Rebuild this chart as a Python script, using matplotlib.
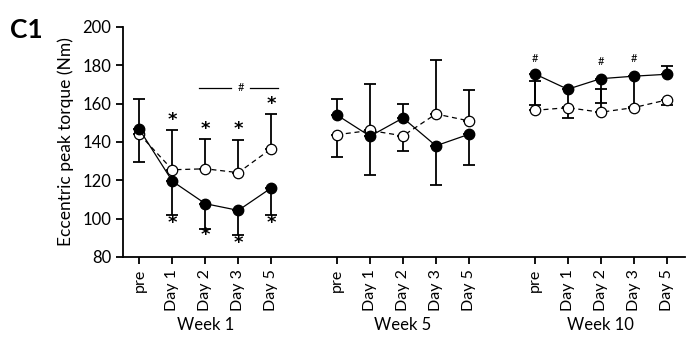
import matplotlib.pyplot as plt
import numpy as np

plt.rcParams['font.family'] = ['Lato', 'DejaVu Sans']

days = ["pre", "Day 1", "Day 2", "Day 3", "Day 5"]
weeks = ["Week 1", "Week 5", "Week 10"]

# filled circles, solid line
filledMean = [[146.5, 119.5, 107.8, 104.3, 116.0],
              [154.0, 143.0, 152.5, 138.0, 144.0],
              [175.5, 167.5, 173.0, 174.3, 175.3]]
filledErrLow = [[0, 17.5, 13.2, 12.8, 14.0],
                [0, 20.0, 0, 20.4, 15.8],
                [16.3, 9.5, 12.8, 16.3, 0]]
filledErrUp = [[16.0, 0, 0, 0, 0],
               [8.3, 0, 7.5, 0, 0],
               [0, 0, 0, 0, 4.5]]

# open circles, dashed line
openMean = [[144.0, 125.5, 126.0, 124.0, 136.5],
            [143.8, 146.0, 143.2, 154.6, 151.0],
            [156.5, 157.9, 155.5, 157.9, 161.9]]
openErrLow = [[14.2, 0, 0, 0, 0],
              [11.5, 0, 7.7, 0, 0],
              [0, 5.5, 0, 0, 2.6]]
openErrUp = [[0, 20.5, 15.5, 16.8, 18.2],
             [0, 24.3, 0, 28.2, 16.0],
             [15.5, 0, 12.0, 0, 0]]

# significance marks
starAbove = [151.5, 146.7, 146.7, 159.7]   # week 1, day 1..5 over open
starBelow = [97.5, 91.5, 87.5, 97.5]       # week 1, day 1..5 under filled
hashWeek10 = [183.5, 182.0, 183.5]          # pre, day 2, day 3
hashLineY = 168.3

fig = plt.figure(figsize=(6.96, 3.64), dpi=100)
ax = fig.add_axes([0.1767, 0.294, 0.807, 0.632])

for w in range(3):
    xs = np.arange(5) + 6 * w
    ax.errorbar(xs, openMean[w], yerr=[openErrLow[w], openErrUp[w]], fmt='none',
                ecolor='black', elinewidth=1.3, capsize=4, capthick=1.3, zorder=2)
    ax.errorbar(xs, filledMean[w], yerr=[filledErrLow[w], filledErrUp[w]], fmt='none',
                ecolor='black', elinewidth=1.3, capsize=4, capthick=1.3, zorder=2)
    ax.plot(xs, openMean[w], color='black', lw=0.9, ls=(0, (4, 3)), marker='o',
            mfc='white', mec='black', mew=0.9, ms=7.5, zorder=3)
    ax.plot(xs, filledMean[w], color='black', lw=0.9, marker='o',
            mfc='black', mec='black', ms=7.5, zorder=4)

for i, x in enumerate([1, 2, 3, 4]):
    ax.text(x, starAbove[i], "*", ha='center', va='center', fontsize=13,
            fontweight='bold', family='DejaVu Sans')
    ax.text(x, starBelow[i], "*", ha='center', va='center', fontsize=13,
            fontweight='bold', family='DejaVu Sans')

ax.plot([1.82, 2.78], [hashLineY, hashLineY], color='black', lw=0.9)
ax.plot([3.37, 4.2], [hashLineY, hashLineY], color='black', lw=0.9)
ax.text(3.07, hashLineY, "#", ha='center', va='center', fontsize=8)
for i, x in enumerate([12, 14, 15]):
    ax.text(x, hashWeek10[i], "#", ha='center', va='center', fontsize=8)

ax.set_ylim(80, 200)
ax.set_yticks(range(80, 201, 20))
ax.set_xlim(-0.5, 16.55)
ax.set_xticks([d + 6 * w for w in range(3) for d in range(5)])
ax.set_xticklabels(days * 3, rotation=90, fontsize=11.5)
ax.tick_params(axis='y', labelsize=12, direction='out', length=5, width=1.3)
ax.tick_params(axis='x', direction='out', length=5, width=1.3)
for s in ['top', 'right']:
    ax.spines[s].set_visible(False)
for s in ['left', 'bottom']:
    ax.spines[s].set_linewidth(1.3)
ax.set_ylabel("Eccentric peak torque (Nm)", fontsize=12.5, labelpad=6)

for w in range(3):
    ax.text(2 + 6 * w, -0.296, weeks[w], transform=ax.get_xaxis_transform(),
            ha='center', va='center', fontsize=12)

fig.text(0.014, 0.918, "C1", fontsize=19, fontweight='bold', va='center', ha='left')

fig.savefig("out.png", dpi=100)
